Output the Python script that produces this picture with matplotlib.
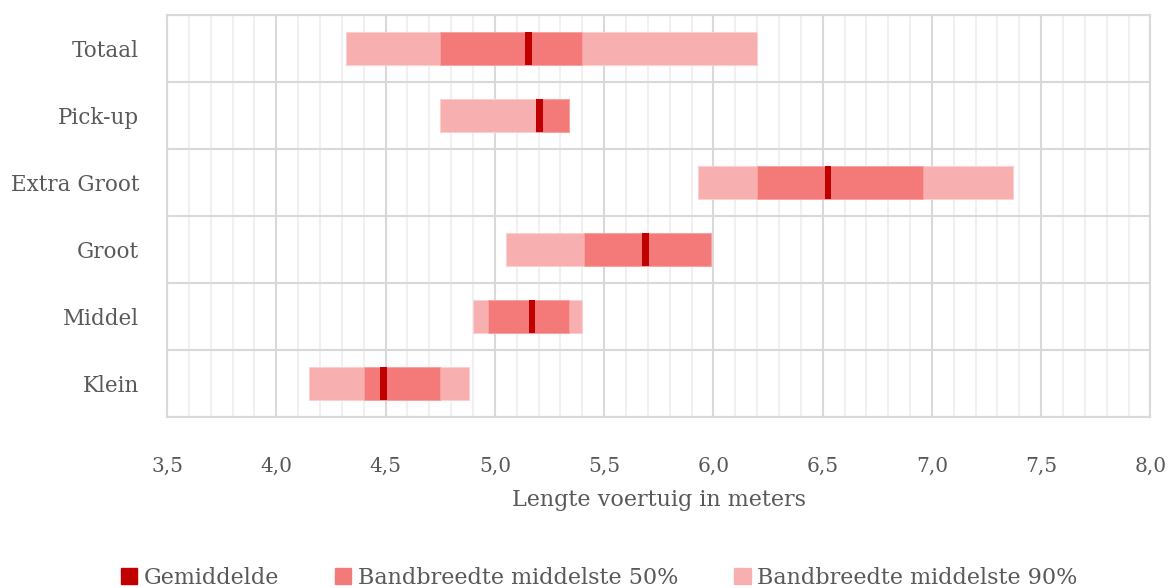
import numpy as np
import matplotlib.pyplot as plt
from matplotlib.patches import Patch
from matplotlib.ticker import MultipleLocator, FuncFormatter

######## Data (bottom to top) ##############
categories = ['Klein', 'Middel', 'Groot', 'Extra Groot', 'Pick-up', 'Totaal']
p5   = [4.15, 4.90, 5.05, 5.93, 4.75, 4.32]
p25  = [4.40, 4.97, 5.41, 6.20, 5.19, 4.75]
mean = [4.49, 5.17, 5.69, 6.525, 5.205, 5.155]
p75  = [4.75, 5.34, 5.99, 6.96, 5.34, 5.40]
p95  = [4.88, 5.40, 5.99, 7.37, 5.34, 6.20]

c_mean = '#C00000'
c_50 = '#F47979'
c_90 = '#F7AFAF'
text_col = '#595959'
mean_w = 0.03

plt.rcParams['font.family'] = ['DejaVu Serif']

fig = plt.figure(figsize=(11.68, 5.88), dpi=100)
ax = fig.add_axes([0.143, 0.291, 0.842, 0.683])

y = np.arange(len(categories))
p5, p25, mean, p75, p95 = map(np.array, (p5, p25, mean, p75, p95))

ax.barh(y, p95 - p5, left=p5, height=0.5, color=c_90, edgecolor='#FAD0D0', linewidth=0.8, zorder=3)
ax.barh(y, p75 - p25, left=p25, height=0.5, color=c_50, edgecolor='#F7A3A3', linewidth=0.6, zorder=4)
ax.barh(y, mean_w, left=mean - mean_w / 2, height=0.5, color=c_mean, linewidth=0, zorder=5)

ax.set_xlim(3.5, 8.0)
ax.set_ylim(-0.5, len(categories) - 0.5)
ax.xaxis.set_major_locator(MultipleLocator(0.5))
ax.xaxis.set_minor_locator(MultipleLocator(0.1))
ax.xaxis.set_major_formatter(FuncFormatter(lambda v, p: f'{v:.1f}'.replace('.', ',')))
ax.set_yticks(y)
ax.set_yticklabels(categories)
ax.set_yticks(np.arange(-0.5, len(categories), 1.0), minor=True)

ax.grid(which='major', axis='x', color='#D9D9D9', linewidth=1.5, zorder=1)
ax.grid(which='minor', axis='x', color='#F0F0F0', linewidth=1.5, zorder=0)
ax.grid(which='minor', axis='y', color='#D9D9D9', linewidth=1.5, zorder=1)
ax.set_axisbelow(True)

for s in ax.spines.values():
    s.set_color('#D9D9D9')
    s.set_linewidth(1.5)

ax.tick_params(axis='both', which='both', length=0, colors=text_col)
ax.tick_params(axis='x', pad=29, labelsize=14.5)
ax.tick_params(axis='y', pad=20, labelsize=15.5)
ax.set_xlabel('Lengte voertuig in meters', color=text_col, fontsize=16, labelpad=9)

handles = [Patch(color=c_mean), Patch(color=c_50), Patch(color=c_90)]
labels = ['Gemiddelde', 'Bandbreedte middelste 50%', 'Bandbreedte middelste 90%']
fig.legend(handles, labels, loc='lower center', bbox_to_anchor=(0.513, -0.035), ncol=3,
           frameon=False, fontsize=16, labelcolor=text_col,
           handlelength=0.75, handleheight=0.75, handletextpad=0.3, columnspacing=2.5)

plt.savefig('out.png', dpi=100)
